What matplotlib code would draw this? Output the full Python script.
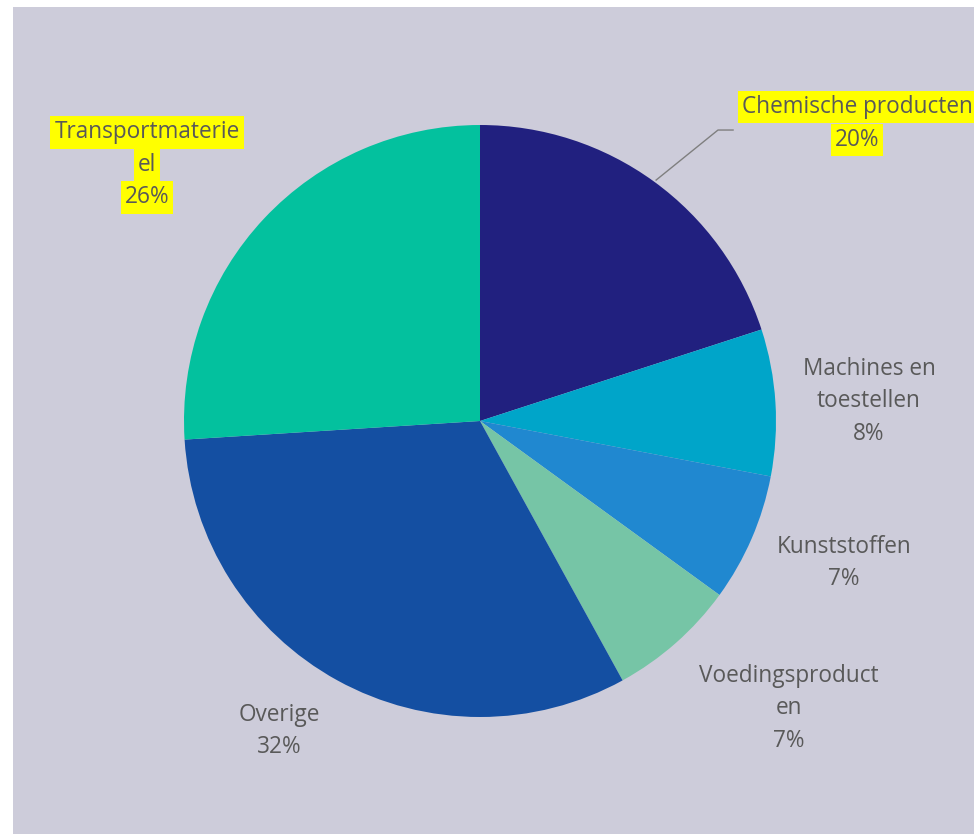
import numpy as np
import matplotlib.pyplot as plt
from matplotlib.patches import Rectangle

# data
categories = ['Chemische producten', 'Machines en toestellen', 'Kunststoffen',
              'Voedingsproducten', 'Overige', 'Transportmaterieel']
shares = [20, 8, 7, 7, 32, 26]
label_lines = [
    ['Chemische producten', '20%'],
    ['Machines en', 'toestellen', '8%'],
    ['Kunststoffen', '7%'],
    ['Voedingsproduct', 'en', '7%'],
    ['Overige', '32%'],
    ['Transportmaterie', 'el', '26%'],
]
highlighted = [True, False, False, False, False, True]

colors = ['#21207F', '#00A5C9', '#2088D0', '#76C5A6', '#144FA2', '#03C19E']
bg = '#CDCCDA'
text_color = '#595959'

# label centres in pie-radius units
label_pos = [(1.274, 1.005), (1.314, 0.066), (1.23, -0.48),
             (1.044, -0.97), (-0.679, -1.047), (-1.125, 0.865)]

W, H = 974, 835
cx, cy, r = 480, 421, 296

fig = plt.figure(figsize=(W / 100, H / 100), dpi=100, facecolor='white')
fig.patches.append(Rectangle((13 / W, 1 / H), (W - 13) / W, (H - 8) / H,
                             transform=fig.transFigure, facecolor=bg,
                             edgecolor='none', zorder=-10))

ax = fig.add_axes([0, 0, 1, 1])
ax.patch.set_alpha(0)
ax.pie(shares, colors=colors, startangle=90, counterclock=False, radius=1,
       wedgeprops=dict(linewidth=0))
ax.set_xlim(-cx / r, (W - cx) / r)
ax.set_ylim(-(H - cy) / r, cy / r)
ax.set_aspect('auto')
ax.axis('off')

line_h = 32.5 / r
for lines, (x, y), hl in zip(label_lines, label_pos, highlighted):
    n = len(lines)
    for i, s in enumerate(lines):
        yy = y + (n - 1) / 2 * line_h - i * line_h
        kw = {}
        if hl:
            kw['bbox'] = dict(boxstyle='square,pad=0.18', facecolor='#FFFF00',
                              edgecolor='none')
        ax.text(x, yy, s, ha='center', va='center', fontsize=16.3,
                family='Open Sans', color=text_color, **kw)

# leader line for Chemische producten
ax.plot([0.595, 0.804, 0.855], [0.814, 0.983, 0.983], color='#7F7F7F',
        linewidth=1)

fig.savefig('out.png', dpi=100, facecolor='white')
